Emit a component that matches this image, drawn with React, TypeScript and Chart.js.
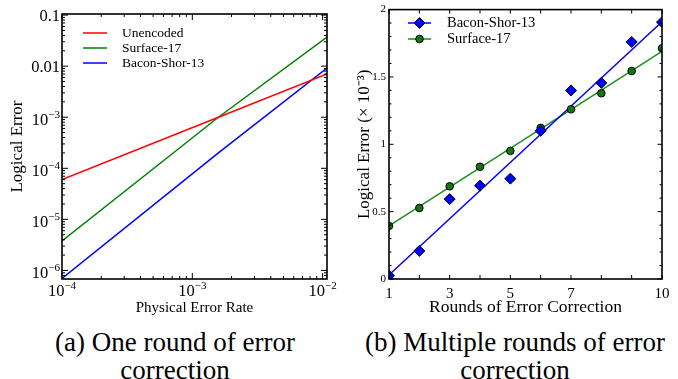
import React, { useEffect, useRef } from 'react';
import { Chart, registerables } from 'chart.js';

Chart.register(...registerables);

const FONT = '"Liberation Serif", "Times New Roman", serif';

// ---------- Panel (a): one round of error correction ----------
const physicalErrorRate = [1e-4, 1.585e-3, 1.08e-2];
const unencoded = [6.0e-5, 1.0e-3, 7.0e-3];
const surface17One = [3.8e-6, 1.0e-3, 3.7e-2];
const baconShor13One = [7.0e-7, 2.0e-4, 9.2e-3];
const logXTicks = [1e-4, 1e-3, 1e-2];
const logXTickLabels = ['10^\u22124', '10^\u22123', '10^\u22122'];
const logYTicks = [1e-6, 1e-5, 1e-4, 1e-3, 1e-2, 1e-1];
const logYTickLabels = ['10^\u22126', '10^\u22125', '10^\u22124', '10^\u22123', '0.01', '0.1'];

// ---------- Panel (b): multiple rounds of error correction ----------
const rounds = [1, 2, 3, 4, 5, 6, 7, 8, 9, 10];
const baconShor13 = [0.024, 0.208, 0.593, 0.693, 0.745, 1.1, 1.4, 1.456, 1.76, 1.907];
const surface17 = [0.394, 0.527, 0.688, 0.833, 0.951, 1.122, 1.26, 1.379, 1.544, 1.713];
const fitRounds = [1, 10];
const baconShorFit = [0.03, 1.91];
const surfaceFit = [0.395, 1.69];
const roundTickLabels = [1, 3, 5, 7, 10];
const errTickLabels = [0, 0.5, 1, 1.5, 2];

const BLUE = '#0000ff';
const GREEN_A = '#008000';
const GREEN_B = '#1a8f1a';
const GREEN_FILL = '#137513';
const RED = '#ff0000';

function drawSciLabel(
  ctx: CanvasRenderingContext2D,
  text: string,
  x: number,
  baseline: number,
  align: 'center' | 'right',
  baseSize: number,
  supSize: number,
  raise: number
) {
  const [base, sup] = text.split('^');
  ctx.font = `${baseSize}px ${FONT}`;
  const wb = ctx.measureText(base).width;
  let ws = 0;
  if (sup) {
    ctx.font = `${supSize}px ${FONT}`;
    ws = ctx.measureText(sup).width;
  }
  const total = wb + ws;
  const x0 = align === 'center' ? x - total / 2 : x - total;
  ctx.textAlign = 'left';
  ctx.textBaseline = 'alphabetic';
  ctx.fillStyle = '#000';
  ctx.font = `${baseSize}px ${FONT}`;
  ctx.fillText(base, x0, baseline);
  if (sup) {
    ctx.font = `${supSize}px ${FONT}`;
    ctx.fillText(sup, x0 + wb, baseline - raise);
  }
}

function logTickLen(v: number): number {
  const e = Math.floor(Math.log10(v) + 1e-9);
  const m = v / Math.pow(10, e);
  const r = Math.round(m);
  if (Math.abs(m - r) > 1e-6) return 0;
  return r === 1 || r === 10 ? 6 : 3;
}

function strokeLine(ctx: CanvasRenderingContext2D, x1: number, y1: number, x2: number, y2: number) {
  ctx.beginPath();
  ctx.moveTo(x1, y1);
  ctx.lineTo(x2, y2);
  ctx.stroke();
}

const logFramePlugin = {
  id: 'logFrame',
  afterDraw(chart: any) {
    const { ctx, chartArea: a } = chart;
    const xs = chart.scales.x;
    const ys = chart.scales.y;
    ctx.save();
    ctx.strokeStyle = '#000';
    ctx.lineWidth = 1;
    for (const t of xs.ticks) {
      const len = logTickLen(t.value);
      if (!len) continue;
      const px = xs.getPixelForValue(t.value);
      strokeLine(ctx, px, a.bottom, px, a.bottom - len);
      strokeLine(ctx, px, a.top, px, a.top + len);
    }
    for (const t of ys.ticks) {
      const len = logTickLen(t.value);
      if (!len) continue;
      const py = ys.getPixelForValue(t.value);
      strokeLine(ctx, a.left, py, a.left + len, py);
      strokeLine(ctx, a.right, py, a.right - len, py);
    }
    ctx.lineWidth = 1.6;
    ctx.strokeRect(a.left, a.top, a.right - a.left, a.bottom - a.top);

    // tick labels
    logXTicks.forEach((v, i) => {
      const px = xs.getPixelForValue(v);
      drawSciLabel(ctx, logXTickLabels[i], px, a.bottom + 17, 'center', 16.5, 11, 7);
    });
    logYTicks.forEach((v, i) => {
      const py = ys.getPixelForValue(v);
      const txt = logYTickLabels[i];
      const bl = txt.includes('^') ? py + 8 : py + 5.5;
      drawSciLabel(ctx, txt, a.left - 2, bl, 'right', 16.5, 11, 7);
    });

    // legend
    const ds = chart.data.datasets;
    ds.forEach((d: any, i: number) => {
      const y = 33 + i * 15;
      ctx.strokeStyle = d.borderColor;
      ctx.lineWidth = 1.5;
      strokeLine(ctx, 83, y, 107, y);
      ctx.fillStyle = '#000';
      ctx.font = `13.5px ${FONT}`;
      ctx.textAlign = 'left';
      ctx.textBaseline = 'middle';
      ctx.fillText(d.label, 122, y);
    });
    ctx.restore();
  },
};

function drawMarker(ctx: CanvasRenderingContext2D, style: string, x: number, y: number, r: number, fill: string) {
  ctx.beginPath();
  if (style === 'rectRot') {
    ctx.moveTo(x - r, y);
    ctx.lineTo(x, y - r);
    ctx.lineTo(x + r, y);
    ctx.lineTo(x, y + r);
    ctx.closePath();
  } else {
    ctx.arc(x, y, r, 0, Math.PI * 2);
  }
  ctx.fillStyle = fill;
  ctx.fill();
  ctx.strokeStyle = '#000';
  ctx.lineWidth = 1;
  ctx.stroke();
}

const linFramePlugin = {
  id: 'linFrame',
  afterDraw(chart: any) {
    const { ctx, chartArea: a } = chart;
    const xs = chart.scales.x;
    const ys = chart.scales.y;
    ctx.save();
    ctx.strokeStyle = '#000';
    ctx.lineWidth = 1;
    for (const t of xs.ticks) {
      const px = xs.getPixelForValue(t.value);
      strokeLine(ctx, px, a.bottom, px, a.bottom - 4);
      strokeLine(ctx, px, a.top, px, a.top + 4);
    }
    for (const t of ys.ticks) {
      const major = errTickLabels.some((v) => Math.abs(v - t.value) < 1e-6);
      const len = major ? 4.5 : 2.5;
      const py = ys.getPixelForValue(t.value);
      strokeLine(ctx, a.left, py, a.left + len, py);
      strokeLine(ctx, a.right, py, a.right - len, py);
    }
    ctx.lineWidth = 1.6;
    ctx.strokeRect(a.left, a.top, a.right - a.left, a.bottom - a.top);

    // legend (marker datasets only)
    const ds = chart.data.datasets.filter((d: any) => !d.showLine);
    ds.forEach((d: any, i: number) => {
      const y = 23 + i * 16;
      ctx.strokeStyle = d.legendLineColor;
      ctx.lineWidth = 1.5;
      strokeLine(ctx, 68, y, 91, y);
      drawMarker(ctx, d.pointStyle, 79.5, y, d.pointRadius, d.backgroundColor);
      ctx.fillStyle = '#000';
      ctx.font = `14.5px ${FONT}`;
      ctx.textAlign = 'left';
      ctx.textBaseline = 'middle';
      ctx.fillText(d.label, 107, y);
    });
    ctx.restore();
  },
};

function PanelA() {
  const ref = useRef<HTMLCanvasElement>(null);
  useEffect(() => {
    const chart = new Chart(ref.current as HTMLCanvasElement, {
      type: 'line',
      data: {
        datasets: [
          {
            label: 'Unencoded',
            data: physicalErrorRate.map((x, i) => ({ x, y: unencoded[i] })),
            borderColor: RED,
            borderWidth: 1.5,
            pointRadius: 0,
            fill: false,
          },
          {
            label: 'Surface-17',
            data: physicalErrorRate.map((x, i) => ({ x, y: surface17One[i] })),
            borderColor: GREEN_A,
            borderWidth: 1.5,
            pointRadius: 0,
            fill: false,
          },
          {
            label: 'Bacon-Shor-13',
            data: physicalErrorRate.map((x, i) => ({ x, y: baconShor13One[i] })),
            borderColor: BLUE,
            borderWidth: 1.5,
            pointRadius: 0,
            fill: false,
          },
        ],
      } as any,
      options: {
        animation: false,
        responsive: false,
        devicePixelRatio: 1,
        layout: { padding: { top: 14, right: 13, left: 0, bottom: 0 } },
        plugins: { legend: { display: false }, tooltip: { enabled: false } },
        scales: {
          x: {
            type: 'logarithmic',
            min: 1e-4,
            max: 1.08e-2,
            grid: { display: false },
            border: { display: false },
            ticks: { display: false },
            afterFit: (s: any) => {
              s.height = 41;
            },
            title: {
              display: true,
              text: 'Physical Error Rate',
              color: '#000',
              font: { family: FONT, size: 15 },
              padding: { top: 0, bottom: 3 },
            },
          },
          y: {
            type: 'logarithmic',
            min: 6.8e-7,
            max: 0.105,
            grid: { display: false },
            border: { display: false },
            ticks: { display: false },
            afterFit: (s: any) => {
              s.width = 62;
            },
            title: {
              display: true,
              text: 'Logical Error',
              color: '#000',
              font: { family: FONT, size: 17 },
              padding: { top: 7, bottom: 0 },
            },
          },
        },
      } as any,
      plugins: [logFramePlugin],
    });
    return () => chart.destroy();
  }, []);
  return (
    <canvas
      ref={ref}
      width={340}
      height={320}
      style={{ position: 'absolute', left: 0, top: 0, width: 340, height: 320 }}
    />
  );
}

function PanelB() {
  const ref = useRef<HTMLCanvasElement>(null);
  useEffect(() => {
    const chart = new Chart(ref.current as HTMLCanvasElement, {
      type: 'scatter',
      data: {
        datasets: [
          {
            label: 'Bacon-Shor-13',
            data: rounds.map((x, i) => ({ x, y: baconShor13[i] })),
            pointStyle: 'rectRot',
            pointRadius: 5.5,
            backgroundColor: BLUE,
            borderColor: '#000',
            borderWidth: 1,
            showLine: false,
            clip: 0,
            legendLineColor: BLUE,
          },
          {
            label: 'Surface-17',
            data: rounds.map((x, i) => ({ x, y: surface17[i] })),
            pointStyle: 'circle',
            pointRadius: 3.8,
            backgroundColor: GREEN_FILL,
            borderColor: '#000',
            borderWidth: 1,
            showLine: false,
            clip: 0,
            legendLineColor: GREEN_B,
          },
          {
            label: 'Bacon-Shor-13 fit',
            data: fitRounds.map((x, i) => ({ x, y: baconShorFit[i] })),
            borderColor: BLUE,
            borderWidth: 1.5,
            pointRadius: 0,
            showLine: true,
            clip: 0,
          },
          {
            label: 'Surface-17 fit',
            data: fitRounds.map((x, i) => ({ x, y: surfaceFit[i] })),
            borderColor: GREEN_B,
            borderWidth: 1.5,
            pointRadius: 0,
            showLine: true,
            clip: 0,
          },
        ],
      } as any,
      options: {
        animation: false,
        responsive: false,
        devicePixelRatio: 1,
        layout: { padding: { top: 7, right: 16, left: 0, bottom: 0 } },
        plugins: { legend: { display: false }, tooltip: { enabled: false } },
        scales: {
          x: {
            type: 'linear',
            min: 1,
            max: 10,
            grid: { display: false, drawTicks: false },
            border: { display: false },
            ticks: {
              stepSize: 1,
              autoSkip: false,
              maxRotation: 0,
              padding: 6,
              color: '#000',
              font: { family: FONT, size: 15 },
              callback: (v: any) => (roundTickLabels.includes(Number(v)) ? String(v) : ''),
            },
            afterFit: (s: any) => {
              s.height = 41;
            },
            title: {
              display: true,
              text: 'Rounds of Error Correction',
              color: '#000',
              font: { family: FONT, size: 17.5 },
              padding: { top: 0, bottom: 2 },
            },
          },
          y: {
            type: 'linear',
            min: 0,
            max: 2,
            grid: { display: false, drawTicks: false },
            border: { display: false },
            ticks: {
              stepSize: 0.1,
              autoSkip: false,
              padding: 3,
              color: '#000',
              font: { family: FONT, size: 11 },
              callback: (v: any) => {
                const m = errTickLabels.find((t) => Math.abs(t - Number(v)) < 1e-6);
                return m === undefined ? '' : String(m);
              },
            },
            afterFit: (s: any) => {
              s.width = 49;
            },
            title: {
              display: true,
              text: 'Logical Error (\u00d7 10\u207b\u00b3)',
              color: '#000',
              font: { family: FONT, size: 17 },
              padding: { top: 14, bottom: 0 },
            },
          },
        },
      } as any,
      plugins: [linFramePlugin],
    });
    return () => chart.destroy();
  }, []);
  return (
    <canvas
      ref={ref}
      width={338}
      height={320}
      style={{ position: 'absolute', left: 340, top: 0, width: 338, height: 320 }}
    />
  );
}

const captionStyle: React.CSSProperties = {
  position: 'absolute',
  top: 328,
  width: 340,
  textAlign: 'center',
  fontFamily: FONT,
  fontSize: 27,
  lineHeight: '28px',
  color: '#000',
};

export default function App() {
  return (
    <div
      style={{
        position: 'absolute',
        left: 0,
        top: 0,
        width: 678,
        height: 379,
        background: '#fff',
        overflow: 'hidden',
      }}
    >
      <PanelA />
      <PanelB />
      <div style={{ ...captionStyle, left: 5 }}>
        (a) One round of error
        <br />
        correction
      </div>
      <div style={{ ...captionStyle, left: 345 }}>
        (b) Multiple rounds of error
        <br />
        correction
      </div>
    </div>
  );
}
